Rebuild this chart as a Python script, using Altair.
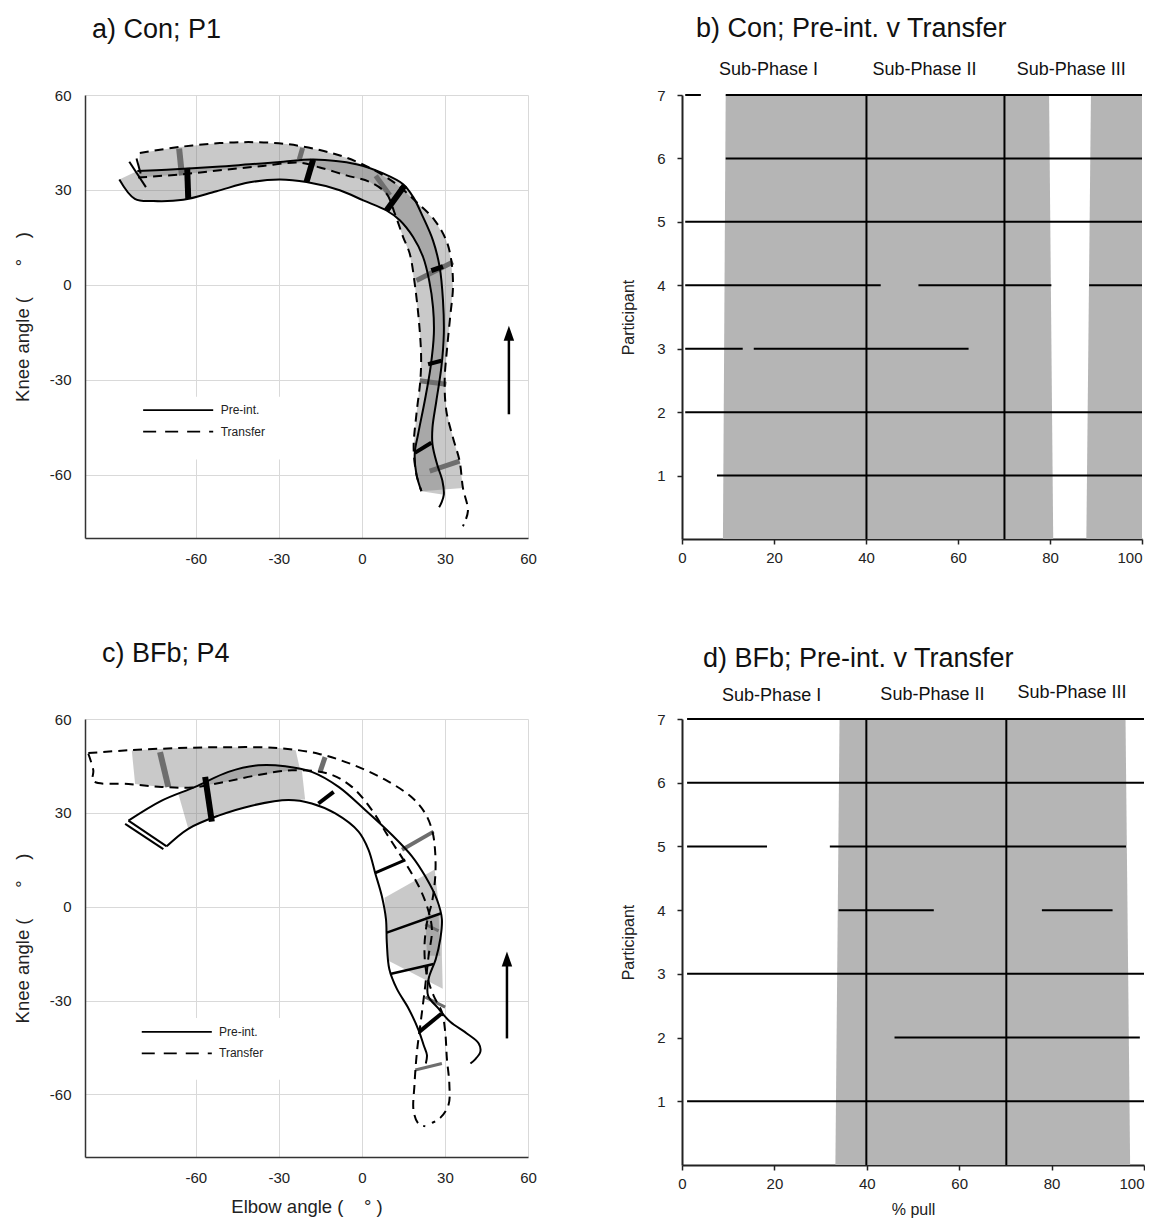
import altair as alt
import pandas as pd

FONT = "Liberation Sans"
NB = "\u00a0"

# ===================== a) Con; P1  (elbow angle x, knee angle y, degrees) =====================
a_pre_out_x = [-81.1, -70.5, -52.5, -40.5, -28.4, -17.6, -2.0, 7.7, 14.9, 18.5, 22.1, 25.7,
               28.1, 29.3, 29.6, 28.7, 26.9, 25.5, 25.5, 27.2, 29.1, 29.6, 28.7, 27.9]
a_pre_out_y = [36.0, 36.4, 37.3, 38.1, 38.9, 39.6, 38.1, 35.2, 31.8, 27.8, 21.4, 14.0,
               5.6, -5.0, -15.5, -26.1, -36.7, -45.1, -50.4, -56.8, -62.0, -66.3, -68.9, -70.3]
a_pre_in_x = [-87.6, -82.0, -75.3, -64.5, -52.5, -40.5, -29.6, -20.0, -8.0, 0.5, 8.9, 13.7,
              18.5, 22.1, 24.3, 25.7, 26.0, 24.8, 22.7, 20.3, 19.1, 19.7, 21.5]
a_pre_in_y = [33.3, 27.2, 26.5, 26.9, 29.6, 32.4, 33.3, 32.5, 29.9, 26.7, 23.5, 20.4,
              15.1, 8.8, 1.4, -7.1, -15.5, -26.1, -36.7, -47.2, -53.1, -59.9, -65.2]
a_tr_out_x = [-80.2, -65.7, -51.3, -39.2, -27.2, -15.2, -5.6, 4.1, 12.5, 19.7, 26.3, 30.5,
              32.3, 32.9, 32.0, 30.8, 29.9, 30.5, 32.9, 35.3, 36.5, 38.3, 36.5]
a_tr_out_y = [41.7, 43.6, 44.8, 45.1, 44.5, 42.6, 40.2, 36.4, 31.8, 26.2, 20.4, 14.0,
              7.7, -0.8, -9.2, -19.8, -30.3, -39.8, -48.3, -55.7, -64.2, -71.5, -76.3]
a_tr_in_x = [-80.8, -65.7, -51.3, -36.8, -22.4, -15.2, -5.6, 2.9, 8.9, 11.9, 14.9, 17.3,
             19.1, 20.7, 21.4, 21.1, 19.7, 18.7, 19.7, 21.5]
a_tr_in_y = [33.9, 34.9, 36.2, 37.5, 38.6, 37.1, 34.6, 32.5, 28.8, 22.5, 15.1, 9.8,
             0.3, -12.4, -22.9, -30.3, -40.9, -51.5, -59.9, -65.2]
# phase connectors (thick black = Pre-int., grey = Transfer)
a_pre_conn_x1 = [-63.1, -17.6, 15.5, 25.1, 23.9, 19.1]
a_pre_conn_y1 = [37.0, 39.6, 31.5, 4.5, -25.1, -53.1]
a_pre_conn_x2 = [-62.7, -20.0, 8.9, 29.3, 28.7, 25.1]
a_pre_conn_y2 = [27.2, 32.5, 23.5, 5.8, -24.0, -49.9]
a_pre_conn_w = [6, 6, 6, 5, 4, 4]
a_tr_conn_x1 = [-66.0, -21.4, 5.0, 19.7, 20.9, 24.5]
a_tr_conn_y1 = [43.1, 43.3, 34.5, 1.4, -30.3, -58.9]
a_tr_conn_x2 = [-65.0, -22.6, 10.1, 32.9, 30.5, 35.3]
a_tr_conn_y2 = [34.6, 39.6, 28.3, 7.2, -31.4, -55.7]
a_tr_conn_w = [6, 5, 5, 5, 5, 5]
a_start_x1 = [-84.0, -81.4]
a_start_y1 = [38.9, 39.9]
a_start_x2 = [-78.0, -79.9]
a_start_y2 = [30.9, 35.2]
a_leg_y = [-39.6, -46.4]
a_leg_x = [-79.0, -53.7, -51.0]
a_box = [-85.0, -28.0, -35.4, -55.2]
a_arrow = [53.1, -40.9, -16.5, -15.3]

# ===================== c) BFb; P4 =====================
c_pre_out_x = [-84.3, -72.3, -60.2, -48.2, -37.4, -27.7, -18.1, -8.4, 1.2, 10.8, 18.1, 22.9,
               27.1, 28.9, 28.3, 26.7, 24.1, 23.9, 27.7, 31.9, 37.9, 42.2, 42.8, 41.0, 39.2]
c_pre_out_y = [27.5, 33.9, 38.3, 43.1, 45.2, 44.9, 43.1, 38.3, 30.9, 23.0, 16.1, 9.7,
               2.3, -4.0, -10.4, -16.7, -23.1, -28.4, -32.6, -36.8, -40.5, -43.7, -46.3, -48.7, -50.1]
c_pre_in_x = [-70.5, -62.7, -51.8, -39.8, -26.5, -18.1, -9.6, -1.2, 2.4, 4.8, 7.2, 8.7,
              9.0, 9.9, 12.6, 16.9, 20.5, 22.3, 23.5, 23.1]
c_pre_in_y = [19.3, 24.9, 29.1, 32.3, 34.1, 33.0, 29.8, 24.0, 18.2, 10.8, 3.4, -4.0,
              -11.4, -19.9, -26.2, -32.6, -39.5, -44.2, -47.4, -50.1]
c_tr_out_x = [-98.8, -84.3, -66.3, -48.2, -30.1, -15.7, -3.6, 8.4, 18.1, 22.9, 25.5, 26.5,
              26.5, 25.5, 23.5, 22.6, 23.5, 25.9, 28.9, 30.1, 30.7, 31.6, 31.3, 28.3, 25.3]
c_tr_out_y = [49.1, 50.0, 50.7, 51.0, 50.7, 48.9, 45.5, 40.6, 34.9, 29.8, 24.0, 17.1,
              9.7, 2.3, -5.1, -13.5, -22.0, -28.4, -33.7, -40.0, -48.5, -56.9, -63.3, -67.5, -69.1]
c_tr_in_x = [-98.8, -97.0, -97.0, -84.3, -72.3, -61.4, -50.6, -38.6, -25.3, -12.0, -3.6, 3.6,
             9.6, 15.7, 20.5, 23.5, 25.3, 24.1, 22.9, 21.4, 19.9, 19.0, 18.7, 20.5, 22.9]
c_tr_in_y = [48.9, 43.6, 40.2, 39.2, 38.3, 38.1, 39.7, 41.9, 43.6, 42.5, 38.3, 30.9,
             22.4, 14.0, 6.6, 0.2, -7.2, -15.7, -25.2, -35.8, -46.3, -56.9, -65.4, -69.4, -70.2]
# partially shaded regions (Transfer band / Pre-int. band)
c_tr_shade1_x = [-83.1, -66.3, -48.2, -30.1, -23.9, -22.3, -25.3, -38.6, -50.6, -61.4, -72.3, -81.9]
c_tr_shade1_y = [49.9, 50.7, 51.0, 50.7, 50.0, 43.7, 43.6, 41.9, 39.7, 38.1, 38.3, 39.2]
c_pre_shade1_x = [-66.3, -60.2, -48.2, -37.4, -27.7, -21.7, -20.5, -26.5, -39.8, -51.8, -62.7]
c_pre_shade1_y = [36.1, 38.3, 43.1, 45.2, 44.9, 43.8, 34.3, 34.1, 32.3, 29.1, 24.9]
c_pre_shade2_x = [8.2, 26.3, 27.7, 28.9, 28.9, 29.2, 9.6, 9.0, 8.7]
c_pre_shade2_y = [2.9, 11.9, 1.3, -7.2, -15.7, -26.2, -17.3, -11.4, -4.0]
c_tr_shade2_x = [22.9, 27.7, 28.3, 23.5]
c_tr_shade2_y = [-3.0, -2.1, -15.7, -15.7]
c_pre_conn_x1 = [-56.6, -15.7, 4.8, 9.0, 10.2, 20.7]
c_pre_conn_y1 = [41.5, 33.0, 10.8, -8.3, -21.5, -40.0]
c_pre_conn_x2 = [-54.2, -10.2, 15.7, 28.7, 25.9, 28.7]
c_pre_conn_y2 = [27.2, 36.7, 15.0, -2.1, -18.3, -34.2]
c_pre_conn_w = [6, 4, 3, 2.5, 2.5, 4]
c_tr_conn_x1 = [-72.9, -13.3, 14.5, 22.9, 22.9, 19.3]
c_tr_conn_y1 = [49.4, 47.8, 18.2, -5.6, -28.9, -52.2]
c_tr_conn_x2 = [-69.9, -15.1, 25.9, 27.7, 30.1, 28.9]
c_tr_conn_y2 = [38.3, 43.1, 24.0, -7.7, -32.1, -50.1]
c_tr_conn_w = [6, 5, 4, 3, 3, 3]
c_start_x1 = [-84.3, -85.5]
c_start_y1 = [27.5, 26.5]
c_start_x2 = [-70.5, -71.7]
c_start_y2 = [19.3, 18.4]
c_leg_y = [-40.0, -46.9]
c_leg_x = [-79.5, -54.2, -51.6]
c_box = [-85.0, -28.0, -35.6, -55.3]
c_arrow = [52.4, -42.1, -17.8, -16.7]

# ===================== b) / d) participants by % pull =====================
participants = [1, 2, 3, 4, 5, 6, 7]
pull_ticks = [0, 20, 40, 60, 80, 100]
phase_names = ["Sub-Phase I", "Sub-Phase II", "Sub-Phase III"]

b_seg_part = [7, 7, 6, 5, 4, 4, 4, 3, 3, 2, 1]
b_seg_start = [0.7, 9.5, 9.5, 0.7, 0.7, 51.4, 88.5, 0.7, 15.6, 0.7, 7.6]
b_seg_end = [4.1, 100, 100, 100, 43.2, 80.3, 100, 13.2, 62.3, 100, 100]
b_grey_x = [8.9, 80.7, 79.8, 9.5, 87.9, 100, 100, 88.9]
b_grey_y = [0, 0, 7, 7, 0, 0, 7, 7]
b_grey_g = [1, 1, 1, 1, 2, 2, 2, 2]
b_phase_x = [40.1, 70.1]
b_label_x = [18.8, 52.7, 84.6]
b_label_y = [7.39, 7.39, 7.39]

d_seg_part = [7, 6, 5, 5, 4, 4, 3, 2, 1]
d_seg_start = [1.1, 1.1, 1.1, 32.0, 33.9, 77.9, 1.1, 46.0, 1.1]
d_seg_end = [100, 100, 18.4, 96.1, 54.5, 93.2, 100, 99.1, 100]
d_grey_x = [33.2, 97.0, 96.0, 34.1]
d_grey_y = [0, 0, 7, 7]
d_grey_g = [1, 1, 1, 1]
d_phase_x = [39.9, 70.2]
d_label_x = [19.4, 54.2, 84.4]
d_label_y = [7.36, 7.38, 7.41]

KNEE_TITLE = NB * 4 + "Knee angle (" + NB * 6 + "°" + NB * 4 + ")"
ELBOW_TITLE = "Elbow angle (" + NB * 4 + "°" + NB + ")"


def curve(xs, ys, key):
    return pd.DataFrame({"x": xs, "y": ys, "o": list(range(len(xs))), "g": key})


def polygon(xo, yo, xi, yi, key):
    xs = list(xo) + list(xi)[::-1]
    ys = list(yo) + list(yi)[::-1]
    return curve(xs, ys, key)


def segs(x1, y1, x2, y2, w):
    return pd.DataFrame({"x": x1, "y": y1, "x2": x2, "y2": y2, "w": w})


def angle_panel(pre_curves, tr_curves, shades, pre_conn, tr_conn, start_conn,
                leg_x, leg_y, box, arrow, title, xtitle, width, height, t_off, t_dx):
    xs = alt.Scale(domain=[-100, 60], nice=False, zero=False)
    ys = alt.Scale(domain=[-80, 60], nice=False, zero=False)
    common = dict(grid=True, gridColor="#d9d9d9", gridWidth=1, ticks=False,
                  domainColor="#333333", domainWidth=1.5, labelFontSize=15,
                  labelColor="#222222", labelFlush=False, titleFontSize=18.5,
                  titleFontWeight="normal", titleColor="#222222",
                  labelExpr="'' + datum.value")
    xax = alt.Axis(values=[-60, -30, 0, 30, 60], labelPadding=13, title=xtitle,
                   titlePadding=12, **common)
    yax = alt.Axis(values=[-60, -30, 0, 30, 60], labelPadding=14, title=KNEE_TITLE,
                   titlePadding=17, **common)
    X = alt.X("x:Q", scale=xs, axis=xax)
    Y = alt.Y("y:Q", scale=ys, axis=yax)

    shade = alt.Chart(shades).mark_line(
        fill="#777777", fillOpacity=0.4, strokeOpacity=0, strokeWidth=0
    ).encode(x=X, y=Y, order="o:Q", detail="g:N")
    box_df = pd.DataFrame({"x": [box[0]], "x2": [box[1]], "y": [box[2]], "y2": [box[3]]})
    wbox = alt.Chart(box_df).mark_rect(color="white").encode(x=X, x2="x2:Q", y=Y, y2="y2:Q")
    trc = alt.Chart(tr_conn).mark_rule(color="#6e6e6e", strokeCap="butt").encode(
        x=X, y=Y, x2="x2:Q", y2="y2:Q", strokeWidth=alt.StrokeWidth("w:Q", scale=None))
    prc = alt.Chart(pre_conn).mark_rule(color="black", strokeCap="butt").encode(
        x=X, y=Y, x2="x2:Q", y2="y2:Q", strokeWidth=alt.StrokeWidth("w:Q", scale=None))
    stc = alt.Chart(start_conn).mark_rule(color="black", strokeWidth=2).encode(
        x=X, y=Y, x2="x2:Q", y2="y2:Q")
    pre = alt.Chart(pre_curves).mark_line(
        color="black", strokeWidth=2, interpolate="catmull-rom"
    ).encode(x=X, y=Y, order="o:Q", detail="g:N")
    tr = alt.Chart(tr_curves).mark_line(
        color="black", strokeWidth=2, strokeDash=[9, 6], interpolate="catmull-rom"
    ).encode(x=X, y=Y, order="o:Q", detail="g:N")

    leg_df = pd.DataFrame({"x": [leg_x[0], leg_x[0]], "x2": [leg_x[1], leg_x[1]],
                           "y": leg_y, "t": ["Pre-int.", "Transfer"], "tx": [leg_x[2], leg_x[2]]})
    leg_solid = alt.Chart(leg_df.iloc[[0]]).mark_rule(color="black", strokeWidth=1.8).encode(
        x=X, x2="x2:Q", y=Y)
    leg_dash = alt.Chart(leg_df.iloc[[1]]).mark_rule(
        color="black", strokeWidth=1.8, strokeDash=[13, 9]).encode(x=X, x2="x2:Q", y=Y)
    leg_txt = alt.Chart(leg_df).mark_text(align="left", baseline="middle", fontSize=12,
                                          color="#222222").encode(
        x=alt.X("tx:Q", scale=xs, axis=xax), y=Y, text="t:N")

    ar_df = pd.DataFrame({"x": [arrow[0]], "y": [arrow[1]], "y2": [arrow[2]], "yh": [arrow[3]]})
    ar_line = alt.Chart(ar_df).mark_rule(color="black", strokeWidth=2.5).encode(x=X, y=Y, y2="y2:Q")
    ar_head = alt.Chart(ar_df).mark_point(
        shape="M0,-1L0.7,1L-0.7,1Z", filled=True, size=225, color="black", opacity=1
    ).encode(x=X, y=alt.Y("yh:Q", scale=ys, axis=yax))

    return alt.layer(shade, wbox, trc, prc, stc, pre, tr, leg_solid, leg_dash, leg_txt,
                     ar_line, ar_head).properties(
        width=width, height=height,
        title=alt.TitleParams(text=title, anchor="start", frame="group", fontSize=27,
                              fontWeight="normal", color="#111111", dx=t_dx, offset=t_off))


def phase_panel(grey, seg_part, seg_start, seg_end, phase_x, lab_x, lab_y,
                title, xtitle, width, height, t_off, t_dx):
    xs = alt.Scale(domain=[0, 100], nice=False, zero=False)
    ys = alt.Scale(domain=[0, 7], nice=False, zero=True)
    common = dict(grid=False, tickSize=5, tickWidth=1.5, tickColor="#222222",
                  domainColor="#222222", domainWidth=2, labelFontSize=15,
                  labelColor="#222222", labelFlush=False, titleFontSize=16,
                  titleFontWeight="normal", titleColor="#222222")
    xax = alt.Axis(values=pull_ticks, labelPadding=6, title=xtitle, titlePadding=10,
                   labelAlign={"condition": {"test": "datum.value == 100", "value": "right"},
                               "value": "center"},
                   **common)
    yax = alt.Axis(values=participants, labelPadding=12, title="Participant",
                   titlePadding=20, **common)
    X = alt.X("x:Q", scale=xs, axis=xax)
    Y = alt.Y("y:Q", scale=ys, axis=yax)

    grey_layer = alt.Chart(grey).mark_line(
        fill="#b5b5b5", fillOpacity=1, strokeOpacity=0, strokeWidth=0
    ).encode(x=X, y=Y, order="o:Q", detail="g:N")
    ph_df = pd.DataFrame({"x": phase_x, "y": [0] * len(phase_x), "y2": [7] * len(phase_x)})
    ph = alt.Chart(ph_df).mark_rule(color="black", strokeWidth=2).encode(x=X, y=Y, y2="y2:Q")
    sg_df = pd.DataFrame({"x": seg_start, "x2": seg_end, "y": seg_part})
    sg = alt.Chart(sg_df).mark_rule(color="black", strokeWidth=2).encode(x=X, x2="x2:Q", y=Y)
    lb_df = pd.DataFrame({"x": lab_x, "y": lab_y, "t": phase_names})
    lb = alt.Chart(lb_df).mark_text(fontSize=18, baseline="middle", color="#111111").encode(
        x=X, y=Y, text="t:N")
    return alt.layer(grey_layer, ph, sg, lb).properties(
        width=width, height=height,
        title=alt.TitleParams(text=title, anchor="start", frame="group", fontSize=27,
                              fontWeight="normal", color="#111111", dx=t_dx, offset=t_off))


# ---------- build panels ----------
a_pre_curves = pd.concat([curve(a_pre_out_x, a_pre_out_y, "out"), curve(a_pre_in_x, a_pre_in_y, "in")])
a_tr_curves = pd.concat([curve(a_tr_out_x, a_tr_out_y, "out"), curve(a_tr_in_x, a_tr_in_y, "in")])
a_shades = pd.concat([
    polygon(a_tr_out_x[:21], a_tr_out_y[:21], a_tr_in_x, a_tr_in_y, "tr"),
    polygon(a_pre_out_x[:22], a_pre_out_y[:22], a_pre_in_x, a_pre_in_y, "pre"),
])
panel_a = angle_panel(
    a_pre_curves, a_tr_curves, a_shades,
    segs(a_pre_conn_x1, a_pre_conn_y1, a_pre_conn_x2, a_pre_conn_y2, a_pre_conn_w),
    segs(a_tr_conn_x1, a_tr_conn_y1, a_tr_conn_x2, a_tr_conn_y2, a_tr_conn_w),
    segs(a_start_x1, a_start_y1, a_start_x2, a_start_y2, [2, 2]),
    a_leg_x, a_leg_y, a_box, a_arrow, "a) Con; P1", None, 443, 443, 44, 7)

c_pre_curves = pd.concat([curve(c_pre_out_x, c_pre_out_y, "out"), curve(c_pre_in_x, c_pre_in_y, "in")])
c_tr_curves = pd.concat([curve(c_tr_out_x, c_tr_out_y, "out"), curve(c_tr_in_x, c_tr_in_y, "in")])
c_shades = pd.concat([
    curve(c_tr_shade1_x, c_tr_shade1_y, "t1"),
    curve(c_pre_shade1_x, c_pre_shade1_y, "p1"),
    curve(c_pre_shade2_x, c_pre_shade2_y, "p2"),
    curve(c_tr_shade2_x, c_tr_shade2_y, "t2"),
])
panel_c = angle_panel(
    c_pre_curves, c_tr_curves, c_shades,
    segs(c_pre_conn_x1, c_pre_conn_y1, c_pre_conn_x2, c_pre_conn_y2, c_pre_conn_w),
    segs(c_tr_conn_x1, c_tr_conn_y1, c_tr_conn_x2, c_tr_conn_y2, c_tr_conn_w),
    segs(c_start_x1, c_start_y1, c_start_x2, c_start_y2, [2, 2]),
    c_leg_x, c_leg_y, c_box, c_arrow, "c) BFb; P4", ELBOW_TITLE, 443, 438, 44, 17)

b_grey = pd.DataFrame({"x": b_grey_x, "y": b_grey_y, "g": b_grey_g, "o": list(range(len(b_grey_x)))})
panel_b = phase_panel(b_grey, b_seg_part, b_seg_start, b_seg_end, b_phase_x, b_label_x, b_label_y,
                      "b) Con; Pre-int. v Transfer", None, 460, 444, 18, 14)
d_grey = pd.DataFrame({"x": d_grey_x, "y": d_grey_y, "g": d_grey_g, "o": list(range(len(d_grey_x)))})
panel_d = phase_panel(d_grey, d_seg_part, d_seg_start, d_seg_end, d_phase_x, d_label_x, d_label_y,
                      "d) BFb; Pre-int. v Transfer", "% pull", 462, 446, 11, 21)

chart = alt.concat(
    panel_a, panel_b, panel_c, panel_d, columns=2,
    spacing={"row": 180, "column": 154}, bounds="flush", align="each"
).properties(
    padding={"left": 5, "top": 7, "right": 0, "bottom": 5}
).configure(font=FONT).configure_view(strokeWidth=0)

chart.save("out.html", embed_options={"renderer": "svg", "actions": False})
